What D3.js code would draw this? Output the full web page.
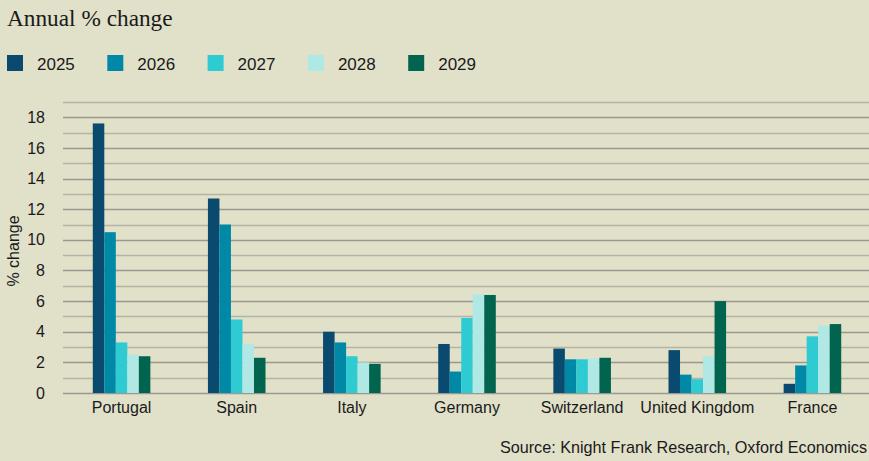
<!DOCTYPE html>
<html>
<head>
<meta charset="utf-8">
<script src="https://cdn.jsdelivr.net/npm/d3@7"></script>
<style>
  body { margin: 0; background: #e1e0c9; }
  svg { display: block; }
  text { font-family: "Liberation Sans", Arial, sans-serif; fill: #1a1a1a; }
</style>
</head>
<body>
<svg width="869" height="461"></svg>
<script>
// chart data
var countries = ["Portugal", "Spain", "Italy", "Germany", "Switzerland", "United Kingdom", "France"];
var years = ["2025", "2026", "2027", "2028", "2029"];
var v2025 = [17.6, 12.7, 4.0, 3.2, 2.9, 2.8, 0.6];
var v2026 = [10.5, 11.0, 3.3, 1.4, 2.2, 1.2, 1.8];
var v2027 = [3.3, 4.8, 2.4, 4.9, 2.2, 0.9, 3.7];
var v2028 = [2.5, 3.2, 2.0, 6.45, 2.25, 2.4, 4.4];
var v2029 = [2.4, 2.3, 1.9, 6.4, 2.3, 6.0, 4.5];
var yTicks = [0, 2, 4, 6, 8, 10, 12, 14, 16, 18];
var colors = ["#0b4a6f", "#0089a7", "#2ecbd2", "#b0e8e5", "#00644f"];

var series = [v2025, v2026, v2027, v2028, v2029];
var data = countries.map((c, i) => {
  var row = {country: c};
  years.forEach((yr, k) => row[yr] = series[k][i]);
  return row;
});

var svg = d3.select("svg");
svg.append("rect").attr("width", 869).attr("height", 461).attr("fill", "#e1e0c9");

var m = {left: 64, right: 870, top: 102, bottom: 393};

var x0 = d3.scaleBand().domain(countries).range([m.left, m.right])
    .paddingInner(0.5).paddingOuter(0.25);
var x1 = d3.scaleBand().domain(years).range([0, x0.bandwidth()]);
var y = d3.scaleLinear().domain([0, 19]).range([m.bottom, m.top]);
var z = d3.scaleOrdinal().domain(years).range(colors);

// title
svg.append("text")
    .attr("x", 7).attr("y", 26)
    .style("font-family", "'Liberation Serif', 'DejaVu Serif', serif")
    .style("font-size", "23.3px")
    .text("Annual % change");

// legend
var legend = svg.append("g").selectAll("g")
  .data(years)
  .enter().append("g")
    .attr("transform", (d, i) => `translate(${7 + i * 100.3},55)`);
legend.append("rect").attr("width", 16).attr("height", 16).attr("fill", (d) => z(d));
legend.append("text").attr("x", 30).attr("y", 15)
    .style("font-size", "17px").text((d) => d);

// gridlines every 1 unit
svg.append("g").selectAll("line")
  .data(d3.range(0, 20))
  .enter().append("line")
    .attr("x1", 63).attr("x2", 869)
    .attr("y1", (d) => Math.round(y(d)) + 0.5)
    .attr("y2", (d) => Math.round(y(d)) + 0.5)
    .attr("stroke", (d) => d % 2 ? "#b4b3a6" : "#999992")
    .attr("stroke-width", 1.3);

// y axis labels
var yAxis = svg.append("g")
    .attr("transform", `translate(45,0)`)
    .call(d3.axisLeft(y).tickValues(yTicks).tickSize(0).tickPadding(0));
yAxis.select(".domain").remove();
yAxis.selectAll("text")
    .style("font-family", "'Liberation Sans', Arial, sans-serif")
    .style("font-size", "16px").attr("fill", "#1a1a1a");

svg.append("text")
    .attr("transform", "translate(19,251) rotate(-90)")
    .attr("text-anchor", "middle")
    .style("font-size", "16px")
    .text("% change");

// bars
var groups = svg.append("g").selectAll("g")
  .data(data)
  .enter().append("g")
    .attr("transform", (d) => `translate(${x0(d.country)},0)`);
groups.selectAll("rect")
  .data((d) => years.map((key) => ({key: key, value: d[key]})))
  .enter().append("rect")
    .attr("x", (d) => x1(d.key))
    .attr("y", (d) => y(d.value))
    .attr("width", x1.bandwidth())
    .attr("height", (d) => y(0) - y(d.value))
    .attr("fill", (d) => z(d.key));

// x axis labels
var xAxis = svg.append("g")
    .attr("transform", `translate(0,${m.bottom})`)
    .call(d3.axisBottom(x0).tickSize(0).tickPadding(9));
xAxis.select(".domain").remove();
xAxis.selectAll("text")
    .style("font-family", "'Liberation Sans', Arial, sans-serif")
    .style("font-size", "16px").attr("fill", "#1a1a1a");

// source
svg.append("text")
    .attr("x", 867).attr("y", 453)
    .attr("text-anchor", "end")
    .style("font-size", "16.2px")
    .text("Source: Knight Frank Research, Oxford Economics");
</script>
</body>
</html>
